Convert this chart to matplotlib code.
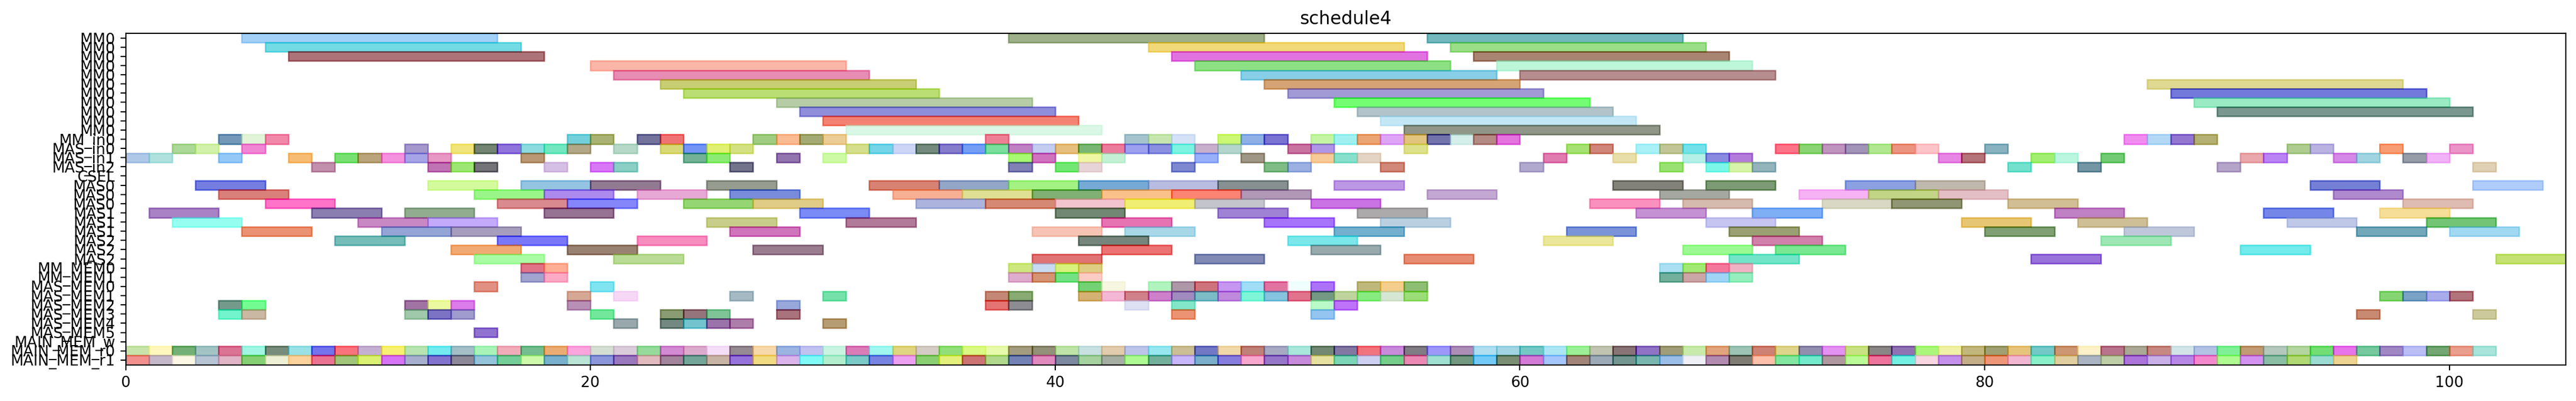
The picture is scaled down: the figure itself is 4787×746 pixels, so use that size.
import matplotlib
matplotlib.use("Agg")
import matplotlib.pyplot as plt
import numpy as np

# ---------------- data ----------------
row_labels = ["MM0", "MM0", "MM0", "MM0", "MM0", "MM0", "MM0", "MM0", "MM0", "MM0", "MM0",
              "MM_in0", "MAS_in0", "MAS_in1", "MAS_in2", "CSEL",
              "MAS0", "MAS0", "MAS0", "MAS1", "MAS1", "MAS1", "MAS2", "MAS2", "MAS2",
              "MM_MEM0", "MM_MEM1", "MAS_MEM0", "MAS_MEM1", "MAS_MEM2", "MAS_MEM3",
              "MAS_MEM4", "MAS_MEM5", "MAIN_MEM_w", "MAIN_MEM_r0", "MAIN_MEM_r1"]

# (start, end) of every task, one list per row
t00 = [(5, 16), (38, 49), (56, 67)]
t01 = [(6, 17), (44, 55), (57, 68)]
t02 = [(7, 18), (45, 56), (58, 69)]
t03 = [(20, 31), (46, 57), (59, 70)]
t04 = [(21, 32), (48, 59), (60, 71)]
t05 = [(23, 34), (49, 60), (87, 98)]
t06 = [(24, 35), (50, 61), (88, 99)]
t07 = [(28, 39), (52, 63), (89, 100)]
t08 = [(29, 40), (53, 64), (90, 101)]
t09 = [(30, 41), (54, 65)]
t10 = [(31, 42), (55, 66)]
t11 = [(4, 5), (5, 6), (6, 7), (19, 20), (20, 21), (22, 23), (23, 24), (27, 28), (28, 29),
       (29, 30), (30, 31), (37, 38), (43, 44), (44, 45), (45, 46), (47, 48), (48, 49), (49, 50),
       (51, 52), (52, 53), (53, 54), (54, 55), (55, 56), (56, 57), (57, 58), (58, 59), (59, 60),
       (86, 87), (87, 88), (88, 89), (89, 90)]
t12 = [(2, 3), (3, 4), (5, 6), (12, 13), (14, 15), (15, 16), (16, 17), (17, 18), (18, 19),
       (19, 20), (21, 22), (23, 24), (24, 25), (25, 26), (26, 27), (31, 32), (32, 33), (33, 34),
       (34, 35), (35, 36), (36, 37), (37, 38), (38, 39), (39, 40), (40, 41), (41, 42), (42, 43),
       (43, 44), (44, 45), (45, 46), (46, 47), (47, 48), (50, 51), (51, 52), (55, 56), (62, 63),
       (63, 64), (65, 66), (66, 67), (67, 68), (71, 72), (72, 73), (73, 74), (74, 75), (75, 76),
       (76, 77), (77, 78), (80, 81), (93, 94), (94, 95), (97, 98), (100, 101)]
t13 = [(0, 1), (1, 2), (4, 5), (7, 8), (9, 10), (10, 11), (11, 12), (12, 13), (13, 14),
       (17, 18), (24, 25), (25, 26), (28, 29), (30, 31), (38, 39), (39, 40), (41, 42), (42, 43),
       (46, 47), (48, 49), (51, 52), (52, 53), (53, 54), (61, 62), (64, 65), (67, 68), (68, 69),
       (69, 70), (78, 79), (79, 80), (82, 83), (83, 84), (85, 86), (91, 92), (92, 93), (95, 96),
       (96, 97), (98, 99), (99, 100)]
t14 = [(8, 9), (13, 14), (14, 15), (15, 16), (18, 19), (20, 21), (21, 22), (26, 27), (38, 39),
       (40, 41), (41, 42), (45, 46), (49, 50), (50, 51), (54, 55), (60, 61), (66, 67), (68, 69),
       (69, 70), (70, 71), (81, 82), (84, 85), (90, 91), (101, 102)]
t15 = []
t16 = [(3, 6), (13, 16), (17, 20), (20, 23), (25, 28), (32, 35), (35, 38), (38, 41), (41, 44),
       (44, 47), (47, 50), (52, 55), (64, 67), (68, 71), (74, 77), (77, 80), (94, 97), (101, 104)]
t17 = [(4, 7), (15, 18), (18, 21), (22, 25), (26, 29), (33, 36), (36, 39), (39, 42), (42, 45),
       (45, 48), (48, 51), (56, 59), (66, 69), (72, 75), (75, 78), (78, 81), (95, 98)]
t18 = [(6, 9), (16, 19), (19, 22), (24, 27), (27, 30), (34, 37), (37, 40), (40, 43), (43, 46),
       (46, 49), (51, 54), (63, 66), (67, 70), (73, 76), (76, 79), (81, 84), (98, 101)]
t19 = [(1, 4), (8, 11), (12, 15), (18, 21), (29, 32), (40, 43), (47, 50), (53, 56), (65, 68),
       (70, 73), (83, 86), (92, 95), (97, 100)]
t20 = [(2, 5), (10, 13), (13, 16), (25, 28), (31, 34), (42, 45), (49, 52), (54, 57), (68, 71),
       (79, 82), (84, 87), (93, 96), (99, 102)]
t21 = [(5, 8), (11, 14), (14, 17), (26, 29), (39, 42), (43, 46), (52, 55), (62, 65), (69, 72),
       (80, 83), (86, 89), (96, 99), (100, 103)]
t22 = [(9, 12), (16, 19), (22, 25), (41, 44), (50, 53), (61, 64), (70, 73), (85, 88)]
t23 = [(14, 17), (19, 22), (27, 30), (42, 45), (51, 54), (67, 70), (71, 74), (91, 94)]
t24 = [(15, 18), (21, 24), (39, 42), (46, 49), (55, 58), (69, 72), (82, 85), (102, 105)]
t25 = [(17, 18), (18, 19), (38, 39), (39, 40), (40, 41), (41, 42), (66, 67), (67, 68),
       (68, 69), (69, 70)]
t26 = [(17, 18), (18, 19), (38, 39), (39, 40), (40, 41), (41, 42), (66, 67), (67, 68),
       (68, 69), (69, 70)]
t27 = [(15, 16), (20, 21), (41, 42), (42, 43), (44, 45), (45, 46), (46, 47), (47, 48), (48, 49),
       (49, 50), (50, 51), (51, 52), (53, 54), (54, 55), (55, 56)]
t28 = [(19, 20), (21, 22), (26, 27), (30, 31), (37, 38), (38, 39), (41, 42), (42, 43), (43, 44),
       (44, 45), (45, 46), (46, 47), (47, 48), (48, 49), (49, 50), (50, 51), (51, 52), (52, 53),
       (53, 54), (54, 55), (55, 56), (97, 98), (98, 99), (99, 100), (100, 101)]
t29 = [(4, 5), (5, 6), (12, 13), (13, 14), (14, 15), (19, 20), (28, 29), (37, 38), (38, 39),
       (43, 44), (45, 46), (51, 52), (52, 53)]
t30 = [(4, 5), (5, 6), (12, 13), (13, 14), (14, 15), (20, 21), (23, 24), (24, 25), (25, 26),
       (28, 29), (45, 46), (51, 52), (96, 97), (101, 102)]
t31 = [(21, 22), (23, 24), (24, 25), (25, 26), (26, 27), (30, 31)]
t32 = [(15, 16)]
t33 = []
t34 = [(0, 1), (1, 2), (2, 3), (3, 4), (4, 5), (5, 6), (6, 7), (7, 8), (8, 9), (9, 10),
       (10, 11), (11, 12), (12, 13), (13, 14), (14, 15), (15, 16), (16, 17), (17, 18), (18, 19),
       (19, 20), (20, 21), (21, 22), (22, 23), (23, 24), (24, 25), (25, 26), (26, 27), (27, 28),
       (28, 29), (29, 30), (30, 31), (31, 32), (32, 33), (33, 34), (34, 35), (35, 36), (36, 37),
       (37, 38), (38, 39), (39, 40), (40, 41), (41, 42), (42, 43), (43, 44), (44, 45), (45, 46),
       (46, 47), (47, 48), (48, 49), (49, 50), (50, 51), (51, 52), (52, 53), (53, 54), (54, 55),
       (55, 56), (56, 57), (57, 58), (58, 59), (59, 60), (60, 61), (61, 62), (62, 63), (63, 64),
       (64, 65), (65, 66), (66, 67), (67, 68), (68, 69), (69, 70), (70, 71), (71, 72), (72, 73),
       (73, 74), (74, 75), (75, 76), (76, 77), (77, 78), (78, 79), (79, 80), (80, 81), (81, 82),
       (82, 83), (83, 84), (84, 85), (85, 86), (86, 87), (87, 88), (88, 89), (89, 90), (90, 91),
       (91, 92), (92, 93), (93, 94), (94, 95), (95, 96), (96, 97), (97, 98), (98, 99), (99, 100),
       (100, 101), (101, 102)]
t35 = [(0, 1), (1, 2), (2, 3), (3, 4), (4, 5), (5, 6), (6, 7), (7, 8), (8, 9), (9, 10),
       (10, 11), (11, 12), (12, 13), (13, 14), (14, 15), (15, 16), (16, 17), (17, 18), (18, 19),
       (19, 20), (20, 21), (21, 22), (22, 23), (23, 24), (24, 25), (25, 26), (26, 27), (27, 28),
       (28, 29), (29, 30), (30, 31), (31, 32), (32, 33), (33, 34), (34, 35), (35, 36), (36, 37),
       (37, 38), (38, 39), (39, 40), (40, 41), (41, 42), (42, 43), (43, 44), (44, 45), (45, 46),
       (46, 47), (47, 48), (48, 49), (49, 50), (50, 51), (51, 52), (52, 53), (53, 54), (54, 55),
       (55, 56), (56, 57), (57, 58), (58, 59), (59, 60), (60, 61), (61, 62), (62, 63), (63, 64),
       (64, 65), (65, 66), (66, 67), (67, 68), (68, 69), (69, 70), (70, 71), (71, 72), (72, 73),
       (73, 74), (74, 75), (75, 76), (76, 77), (77, 78), (78, 79), (79, 80), (80, 81), (81, 82),
       (82, 83), (83, 84), (84, 85), (85, 86), (86, 87), (87, 88), (88, 89), (89, 90), (90, 91),
       (91, 92), (92, 93), (93, 94), (94, 95), (95, 96)]

# ---------------- styles (apparent colour of each task) ----------------
c00 = ["A2D0F8", "9DB08A", "6CB8BC"]
c01 = ["73DCE4", "F2D878", "9ADE88"]
c02 = ["AC6A78", "E268E0", "A8846A"]
c03 = ["FCB6A8", "8EE084", "BEF6DA"]
c04 = ["E88CB2", "88CEE6", "B68E90"]
c05 = ["C8CE68", "D4A476", "DED892"]
c06 = ["BADE6C", "A29AD4", "6E78DC"]
c07 = ["B6CCA6", "74FE6C", "9AEAC4"]
c08 = ["908EDC", "B2C4CA", "7A9890"]
c09 = ["F4826E", "C4E8F6"]
c10 = ["DCF8E6", "909688"]
c11 = ["7098B8", "E2F4D8", "F288AA", "64D0DC", "AAB26E", "6C6E9C", "F07068", "A0CC82", "FABA92",
       "A4AA68", "ECCC96", "EE8096", "A6C4CE", "C6E6AE", "D4E2F6", "CCF870", "8EB0E8", "7A6ED2",
       "C4F4A4", "A0F0F0", "ECA468", "DEA4F8", "E2C47E", "706CAC", "D4EEEA", "B48A84", "E46CDE",
       "F08CF0", "B2D8F6", "9276D0", "B4B068"]
c12 = ["ACD898", "D2F2AA", "F286D6", "A498CC", "F2E47C", "6A846A", "9068DC", "8CDCDE", "6CE8C0",
       "B2A888", "B6D8C8", "D8D876", "6C94F4", "E0F05A", "D4E282", "D6DE8C", "6CD6E8", "CCD6F6",
       "6E8A7C", "867CCC", "749EF6", "7ADE9C", "C080C4", "C4CCF0", "E6BE7E", "7AB664", "EC7C9C",
       "9CA0EE", "8C90E2", "7CF4E2", "C8B0CC", "B4D6CC", "C86EA0", "B096E6", "DEE28C", "A6E26A",
       "D08678", "AAF0F8", "C2C696", "70E2EA", "FC7088", "8AD46A", "C094C0", "A294B8", "B2E892",
       "EC9480", "FCC4C8", "88B2C0", "AECC90", "BAB2E2", "F89C6C", "EA94C8"]
c13 = ["B0C8E8", "B0E2DE", "94C8F8", "F6BC74", "78E070", "BAA47C", "F492DE", "A6A4E6", "E898C4",
       "BA9876", "72B296", "8CEC6E", "9274AE", "CEFAA6", "A8FA6E", "D06CC0", "F0F8A4", "C4F2D6",
       "98B0FA", "A09686", "F8CA98", "88E0CC", "E4D4C4", "E07CB0", "E8DEAA", "B4F0E8", "8A8AE0",
       "B47CDA", "E886E4", "B47078", "A2EE70", "BAF6E0", "70CA74", "EAA8AC", "BA84F4", "D688E8",
       "A0D4E0", "969CA8", "F2B2F8"]
c14 = ["C290AC", "C06AB4", "9EE66E", "6A6878", "D6C0E4", "D878F8", "8ACEC4", "686E8C", "8080B4",
       "70E86E", "E8D4D8", "7E88D0", "80BC86", "9CB0E2", "D08878", "B2AACE", "9AE268", "7CF8E8",
       "D8F4AA", "94B4BC", "68E2CE", "7496A4", "B4A4C8", "E0D0B4"]
c15 = []
c16 = ["747EE2", "D4FA9E", "94C4E2", "927A92", "969C90", "D8826A", "92A6C8", "A4F284", "76AAD6",
       "B8BCE0", "869090", "BC98E4", "82827A", "7C9A6E", "8AA0E2", "C0B8AC", "7480D6", "B0CCFA"]
c17 = ["DA807A", "9AF688", "AC8AEE", "E8A8D6", "788CDC", "F8B094", "E0E094", "80B06C", "FAC28A",
       "FC846E", "B098B6", "C2A8D2", "A4A8A0", "F6B2F4", "C2D486", "E4C0C6", "B08ACE"]
c18 = ["FF68C8", "D88A8E", "8486FA", "96D674", "E0CC86", "ACB4DE", "D68870", "F2C4CE", "F0EE6C",
       "C4C4CC", "CA64E4", "FA90BE", "D6BAAE", "D8D8C4", "909668", "D2BE94", "DEBCB2"]
c19 = ["A882C4", "8A7EB0", "92AC90", "966C92", "7A8AF6", "64886C", "A082D4", "ACAAAA", "C492D2",
       "7EAEF4", "C080C4", "7486E8", "F6DE98"]
c20 = ["96FEF2", "C888C4", "C4AAFA", "C8CE8A", "B07A98", "E670B2", "A674FA", "BAD0E0", "C6C4F0",
       "E8C66E", "CEC096", "C0C8E8", "70C474"]
c21 = ["EA926C", "94A4D6", "A69EBC", "D074BC", "F6C4B4", "A8D8E8", "74B0CE", "7A92D8", "9AA070",
       "80A06C", "C0C8DC", "6EA8BA", "A2D8F2"]
c22 = ["76BCB8", "7A78FA", "F88CBE", "76867C", "7CE8EC", "EAE89A", "D080AA", "9EE8B4"]
c23 = ["F2AA6E", "9A826A", "9A7E90", "EC646E", "98AAAC", "9CFA92", "7AE892", "6EEAEC"]
c24 = ["AAFCA4", "BADC96", "E07070", "808AB4", "E68C6C", "6CE4C8", "9A6CDA", "C4E262"]
c25 = ["E26888", "FFAE96", "CEE87E", "C8DCF2", "D8F07C", "DECE84", "AAE0F2", "A2EA72", "F4789C",
       "F2B2C4"]
c26 = ["A0A4CE", "FCAAC6", "DEACCC", "D6946E", "70E284", "FCCCC4", "6EB09C", "CCA6A6", "A0D6F6",
       "96EEBE"]
c27 = ["E29082", "80E4F0", "6CD268", "F6F6E2", "B2F4BE", "AE98A8", "CE647C", "C696F0", "A0DEF6",
       "E264A0", "F0FEFE", "AC64FA", "BEB87C", "F4CE8C", "8EBE6C"]
c28 = ["D6A896", "F6D8F6", "A6BAC4", "76E2AA", "C48876", "88AA70", "D4B26E", "F4B8D6", "D08088",
       "CE80CC", "A08ABE", "7CBCC6", "C08ADE", "80F6D8", "84C4DE", "E26C8C", "689884", "BED49C",
       "88EC80", "D6E6D2", "9CDE78", "86D66E", "7AA2C4", "A8ACEC", "B2747C"]
c29 = ["749A8C", "6AFC92", "A068A2", "ECFAA0", "DA7CEA", "B890B6", "98A8DC", "E4646E", "8C8C92",
       "DEE0F4", "82E8C8", "BAFAC8", "BE68FA"]
c30 = ["6EF4CC", "CAB8A2", "A0C8AA", "7C68C4", "A09CCE", "68E89C", "8A9C70", "96747C", "7EC496",
       "A8687C", "EC946C", "94C4F0", "C88A70", "CCCA9C"]
c31 = ["98A8AC", "6A8880", "70C4CE", "9A70AA", "AE7EAA", "B69C64"]
c32 = ["906CD0"]
c33 = []
c34 = ["C8E4AA", "FFF8BE", "68B074", "A2C4C4", "DC7094", "A0F6E2", "788C7C", "9AE2E6", "706EEC",
       "FA6C7C", "C4B0D2", "F8F070", "B8E4B2", "6EECF0", "A4BEC8", "A8F4B8", "F2ACBA", "72BE90",
       "ECAC74", "FCA4DE", "D6DED2", "DACCDA", "96DC9C", "D28AD2", "DCAACC", "F4DEF8", "968A92",
       "F8D8AA", "9CB4E2", "C2C2F0", "C8F4E2", "DC7CB8", "A0F8F0", "E0D680", "D4CCC4", "92DE78",
       "DAFA84", "E8FAAC", "A49C80", "929078", "C0E4A8", "C8E0E2", "E2CCAE", "BCC4EA", "96E8F0",
       "CCC096", "6C78C4", "F2D8A8", "C08078", "A8AAC4", "AAE8DC", "68886C", "8278A4", "F26C7C",
       "CA8ADA", "807C84", "9E98FA", "AC8EB6", "AEDEF0", "A2D6E4", "6EC8C4", "ACE6F4", "9CF296",
       "C2C4B2", "887476", "9068C4", "A09E78", "C8EAAA", "E2A47C", "9EC4B6", "CE8272", "DED48C",
       "928EAE", "E492F2", "C8E282", "8A8686", "906EB2", "AAF87C", "F0F0A6", "C2B87C", "A0A06E",
       "E8C47C", "68C8C8", "CC966C", "FCF2C8", "B8688C", "ACA896", "C68880", "D2E4E8", "B2C2E4",
       "80F096", "C29A74", "B4C8BE", "B4D6A0", "6CDE68", "E874EC", "76C89E", "A088C4", "BABEF4",
       "6AA66A", "EA9E8E", "A8E4DA"]
c35 = ["F2908C", "C4B8CA", "FCF6E4", "B6C4D4", "E0B4C4", "84D070", "EEF0D6", "FCD29C", "EA6492",
       "A0C478", "DAF270", "D66EF4", "A6B0CE", "8272CE", "8C8898", "94C4DC", "6ECE98", "CCFAAA",
       "78B0CE", "BAE4D6", "8C96DC", "9A78BE", "E2BABE", "A2849C", "68A698", "C8B4A4", "9668DC",
       "F0DA82", "DAB4EC", "80FAF6", "B2EECE", "7ACAC8", "7884E2", "ECA0F0", "8AD06A", "E4F07C",
       "CC7272", "B0D88C", "6682B4", "E28ABE", "7C88A0", "A6D2A0", "A6AEA4", "AEFA92", "6CB09C",
       "C8B6FA", "7AAECA", "867CDE", "F8A6CE", "9676C8", "C68ADA", "E6E2A0", "7CD6B6", "CED0F2",
       "74CE8A", "EC88B4", "A0E0D2", "6E9880", "64CAF6", "7A8E6E", "D27AD6", "A4C6FC", "A28478",
       "9CAAB8", "6A9690", "7AB6B0", "9ABEE8", "EEF0F6", "B28CB0", "7E7C68", "FCC0AA", "82E6A0",
       "6AEACC", "B098A0", "BAFA96", "EE709C", "6CF0E2", "F8D6E2", "C490EC", "C4AE88", "EE9678",
       "F2B6D2", "8AF0CA", "E2CEA0", "AAB4C2", "BECEA6", "AC74DA", "C8B0E8", "B888E8", "F488CC",
       "B0FA92", "D492F0", "8ABEA4", "B0D864", "9CDCD2", "EED492"]

all_tasks = [t00, t01, t02, t03, t04, t05, t06, t07, t08, t09, t10, t11, t12, t13, t14, t15,
             t16, t17, t18, t19, t20, t21, t22, t23, t24, t25, t26, t27, t28, t29, t30, t31,
             t32, t33, t34, t35]
all_colors = [c00, c01, c02, c03, c04, c05, c06, c07, c08, c09, c10, c11, c12, c13, c14, c15,
              c16, c17, c18, c19, c20, c21, c22, c23, c24, c25, c26, c27, c28, c29, c30, c31,
              c32, c33, c34, c35]

ALPHA = 0.55


def base_color(hexstr):
    """Colour that, drawn with ALPHA over white, gives the apparent colour."""
    rgb = np.array([int(hexstr[i:i + 2], 16) for i in (0, 2, 4)], dtype=float)
    c = (rgb - (1 - ALPHA) * 255.0) / ALPHA
    return tuple(np.clip(c, 0, 255) / 255.0)


# ---------------- figure ----------------
W, H, DPI = 4787, 746, 200
fig = plt.figure(figsize=(W / DPI, H / DPI), dpi=DPI)
ax = fig.add_axes([233.5 / W, 1 - 678.5 / H, (4767.7 - 233.5) / W, (678.5 - 62.0) / H])

for row, (tasks, cols) in enumerate(zip(all_tasks, all_colors)):
    if not tasks:
        continue
    starts = [s for s, e in tasks]
    widths = [e - s for s, e in tasks]
    rgb = [base_color(c) for c in cols]
    ax.barh([row] * len(tasks), widths, left=starts, height=1.0,
            color=rgb, edgecolor=rgb, alpha=ALPHA, linewidth=1.0)

ax.set_yticks(range(len(row_labels)))
ax.set_yticklabels(row_labels)
ax.set_ylim(len(row_labels) - 0.5, -0.5)
ax.set_xlim(0, 105)
ax.set_xticks([0, 20, 40, 60, 80, 100])
ax.set_title("schedule4")

fig.savefig("out.png", dpi=DPI)
